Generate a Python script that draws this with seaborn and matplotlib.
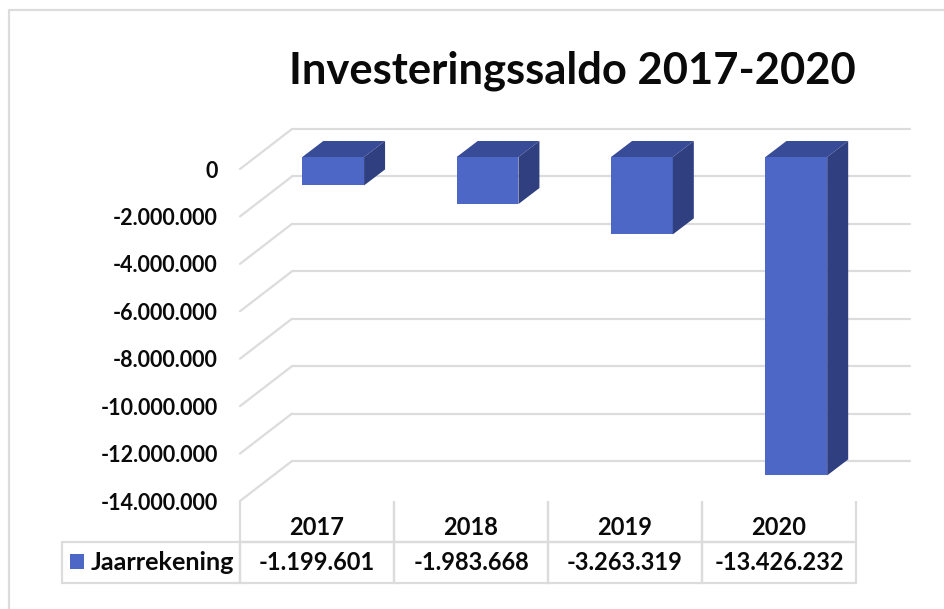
import matplotlib
matplotlib.use("Agg")
import matplotlib.pyplot as plt
from matplotlib.lines import Line2D
from matplotlib.patches import Polygon, Rectangle
from matplotlib.transforms import Affine2D
import pandas as pd
import seaborn as sns

years = ["2017", "2018", "2019", "2020"]
jaarrekening = [-1199601, -1983668, -3263319, -13426232]
value_labels = ["-1.199.601", "-1.983.668", "-3.263.319", "-13.426.232"]
y_ticks = [0, -2000000, -4000000, -6000000, -8000000, -10000000, -12000000, -14000000]
y_tick_labels = ["0", "-2.000.000", "-4.000.000", "-6.000.000", "-8.000.000",
                 "-10.000.000", "-12.000.000", "-14.000.000"]
series_name = "Jaarrekening"
title = "Investeringssaldo 2017-2020"

FRONT = "#4c67c6"
TOP = "#384b96"
SIDE = "#303f80"
GRID = "#dcdcdc"
TEXT = "#0a0a0a"
W, H = 945, 609

sns.set_theme(style="white")
plt.rcParams["font.family"] = ["Lato", "DejaVu Sans"]
plt.rcParams["font.weight"] = "bold"


def px_box(left, top, right, bottom):
    # pixel box (y down) to figure fractions
    return [left / W, 1 - bottom / H, (right - left) / W, (bottom - top) / H]


fig = plt.figure(figsize=(W / 100, H / 100), dpi=100, facecolor="white")
# the axes is the plane of the bar front faces
ax = fig.add_axes(px_box(256, 157, 873.5, 489))
ax.patch.set_alpha(0)

df = pd.DataFrame({"Jaar": years, "Saldo": jaarrekening})
sns.barplot(data=df, x="Jaar", y="Saldo", color=FRONT, saturation=1, width=0.4, ax=ax, zorder=3)
ax.set_xlim(-0.5, 3.5)
ax.set_ylim(-14000000, 0)
ax.set_xlabel("")
ax.set_ylabel("")
ax.set_xticks([])
ax.set_yticks(y_ticks)
ax.set_yticklabels(y_tick_labels)
sns.despine(ax=ax, left=True, bottom=True)

# depth offsets in pixels
to_front = Affine2D().translate(-16, -12)
to_back = Affine2D().translate(36, 28)
bar_depth = Affine2D().translate(21, 16)

ax.tick_params(axis="y", length=0, pad=27.5, labelsize=15.5, labelcolor=TEXT)
for lab in ax.get_yticklabels():
    lab.set_transform(lab.get_transform() + Affine2D().translate(0, -12))

# walls: back grid line and the diagonal on the left
for t in y_ticks:
    ax.plot([-0.5, 3.5], [t, t], color=GRID, lw=1.6, clip_on=False, zorder=1,
            transform=ax.transData + to_back)
    a = (ax.transData + to_front).transform((-0.5, t))
    b = (ax.transData + to_back).transform((-0.5, t))
    ax.add_line(Line2D([a[0], b[0]], [a[1], b[1]], color=GRID, lw=1.6, transform=None,
                       clip_on=False, zorder=1))

# top and side faces from the bars that seaborn drew
for bar in ax.patches[:len(years)]:
    bar.set_edgecolor("none")
    x0, x1 = bar.get_x(), bar.get_x() + bar.get_width()
    y0, y1 = 0, bar.get_y() + bar.get_height() if bar.get_height() < 0 else bar.get_y()
    p00 = ax.transData.transform((x0, y0))
    p10 = ax.transData.transform((x1, y0))
    p11 = ax.transData.transform((x1, y1))
    d = bar_depth.transform((0, 0))
    top = [p00, p10, p10 + d, p00 + d]
    side = [p10, p11, p11 + d, p10 + d]
    ax.add_patch(Polygon(top, closed=True, fc=TOP, ec="none", transform=None, clip_on=False, zorder=3))
    ax.add_patch(Polygon(side, closed=True, fc=SIDE, ec="none", transform=None, clip_on=False, zorder=3))

# data table below the plot
col_w = [178, 154, 154, 154, 154]
inv = ax.transAxes.inverted()
bl = inv.transform((62, H - 583))
tr = inv.transform((856, H - 501))
tb = ax.table(cellText=[[""] + years, [series_name] + value_labels],
              cellLoc="center", bbox=[bl[0], bl[1], tr[0] - bl[0], tr[1] - bl[1]])
tb.auto_set_font_size(False)
tb.set_fontsize(17)
for (r, c), cell in tb.get_celld().items():
    cell.set_width(col_w[c] / sum(col_w))
    cell.set_edgecolor(GRID)
    cell.set_linewidth(1.6)
    cell.set_facecolor("none")
    cell.get_text().set_color(TEXT)
    cell.get_text().set_fontweight("bold")
    if r == 0:
        cell.visible_edges = "" if c == 0 else "LRB"
        # year labels sit low in their cell
        cell.get_text().set_transform(Affine2D().translate(0, -6))
    else:
        cell.visible_edges = "closed"
tb[(1, 0)].get_text().set_ha("right")
tb[(1, 0)].PAD = 0.03
tb[(1, 0)].get_text().set_fontsize(18.2)
fig.add_artist(Rectangle((70 / W, 1 - 569 / H), 14 / W, 15 / H, fc=FRONT, ec="none",
                         transform=fig.transFigure))

fig.text(289 / W, 1 - 71 / H, title, fontsize=31.3, fontweight="bold", color=TEXT, va="center", ha="left")

# picture frame
fig.add_artist(Line2D([9 / W, 9 / W, 1], [0, 1 - 10 / H, 1 - 10 / H], color=GRID, lw=1.6,
                      transform=fig.transFigure))

fig.savefig("out.png", dpi=100, facecolor="white")
